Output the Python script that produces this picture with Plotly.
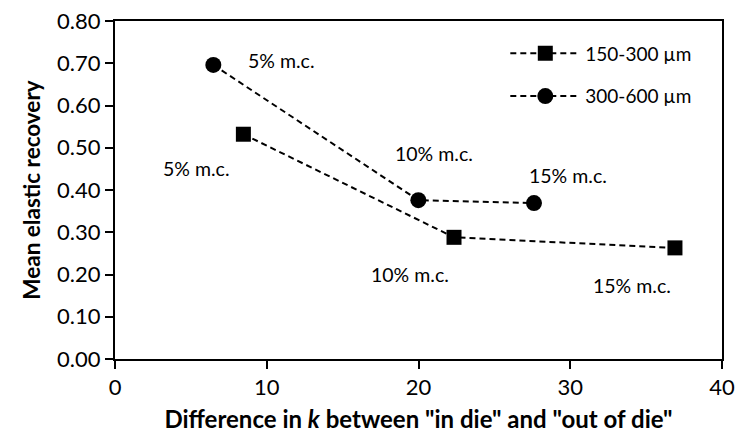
import plotly.graph_objects as go

# Particle size fractions
series_names = ["150-300 µm", "300-600 µm"]

# Difference in k ("in die" vs "out of die") and mean elastic recovery
x_small = [8.46, 22.34, 36.9]
y_small = [0.532, 0.288, 0.263]
x_large = [6.48, 19.99, 27.61]
y_large = [0.696, 0.376, 0.369]

# Moisture-content labels placed beside the points
label_text = ["5% m.c.", "10% m.c.", "15% m.c.", "5% m.c.", "10% m.c.", "15% m.c."]
label_x = [5.38, 19.44, 34.1, 10.98, 21.0, 29.85]
label_y = [0.451, 0.199, 0.175, 0.706, 0.487, 0.435]

x_ticks = [0, 10, 20, 30, 40]
y_ticks = [0.0, 0.1, 0.2, 0.3, 0.4, 0.5, 0.6, 0.7, 0.8]

FONT = "Lato"
line_style = dict(color="black", width=2, dash="6px,4px")

fig = go.Figure()
fig.add_trace(go.Scatter(
    x=x_small, y=y_small, name=series_names[0], mode="lines+markers",
    line=line_style, marker=dict(symbol="square", size=15, color="black"),
    legendgroup="a",
))
fig.add_trace(go.Scatter(
    x=x_large, y=y_large, name=series_names[1], mode="lines+markers",
    line=line_style, marker=dict(symbol="circle", size=16, color="black"),
    legendgroup="b",
))

for t, lx, ly in zip(label_text, label_x, label_y):
    fig.add_annotation(x=lx, y=ly, text=t, showarrow=False,
                       font=dict(family=FONT, size=19.5, color="black"))

axis_common = dict(
    showline=True, linecolor="black", linewidth=2, mirror=True,
    ticks="outside", ticklen=8, tickwidth=2, tickcolor="black",
    showgrid=False, zeroline=False, automargin=False,
    tickfont=dict(family=FONT, size=22, color="black"),
)

fig.update_xaxes(
    range=[0, 40], tickvals=x_ticks, **axis_common,
    title=dict(text='Difference in <i>k</i> between "in die" and "out of die"',
               font=dict(family=FONT, size=24, color="black", weight="bold"),
               standoff=12),
)
fig.update_yaxes(
    range=[0, 0.8], tickvals=y_ticks, tickformat=".2f", **axis_common,
    title=dict(text="Mean elastic recovery",
               font=dict(family=FONT, size=22.5, color="black", weight="bold"),
               standoff=10),
)

fig.update_layout(
    width=738, height=443,
    margin=dict(l=115, r=16, t=21, b=84),
    paper_bgcolor="white", plot_bgcolor="white",
    showlegend=True,
    legend=dict(
        x=0.643, y=0.96, xanchor="left", yanchor="top",
        bgcolor="rgba(0,0,0,0)", borderwidth=0,
        font=dict(family=FONT, size=19, color="black"),
        traceorder="grouped", tracegroupgap=15, itemwidth=70,
    ),
)

fig.write_html("out.html")
